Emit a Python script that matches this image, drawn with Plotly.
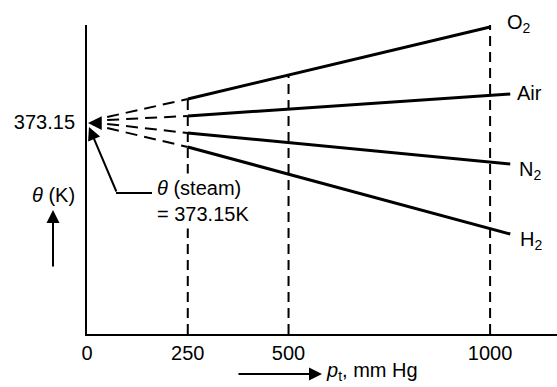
import plotly.graph_objects as go

# ---- data (schematic theta values in K) ----
theta_steam = 373.15
p_solid_o2 = [250, 1000]
p_solid_other = [250, 1050]
theta_o2 = [373.38, 374.10]
theta_air = [373.21, 373.43]
theta_n2 = [373.04, 372.73]
theta_h2 = [372.90, 372.03]

p_dash = [50, 250]
theta_o2_dash = [373.20, 373.38]
theta_air_dash = [373.17, 373.21]
theta_n2_dash = [373.13, 373.04]
theta_h2_dash = [373.09, 372.90]

p_marks = [250, 500, 1000]
theta_marks_top = [373.38, 373.63, 374.12]

x_ticks = [0, 250, 500, 1000]
y_range = [371.03, 374.12]
x_range = [0, 1166]

FONT = "Liberation Sans, Arial, sans-serif"
BLACK = "black"

fig = go.Figure()

# dashed extrapolations
for th in [theta_o2_dash, theta_air_dash, theta_n2_dash, theta_h2_dash]:
    fig.add_trace(go.Scatter(x=p_dash, y=th, mode="lines",
                             line=dict(color=BLACK, width=2, dash="12px,7px"),
                             showlegend=False, hoverinfo="skip"))

# dashed verticals
for p, top in zip(p_marks, theta_marks_top):
    fig.add_trace(go.Scatter(x=[p, p], y=[y_range[0], top], mode="lines",
                             line=dict(color=BLACK, width=2, dash="10px,6px"),
                             showlegend=False, hoverinfo="skip"))

# solid lines
fig.add_trace(go.Scatter(x=p_solid_o2, y=theta_o2, mode="lines",
                         line=dict(color=BLACK, width=3), showlegend=False))
for th in [theta_air, theta_n2, theta_h2]:
    fig.add_trace(go.Scatter(x=p_solid_other, y=th, mode="lines",
                             line=dict(color=BLACK, width=3), showlegend=False))

L, R, T, B = 87, 557, 25, 334
W, H = R - L, B - T


def PX(x):
    return (x - L) / W


def PY(y):
    return (B - y) / H


ann = []
fs = 20


def txt(x, y, s, xa="left", **kw):
    d = dict(x=PX(x), y=PY(y), xref="paper", yref="paper", text=s,
             showarrow=False, xanchor=xa, yanchor="middle",
             font=dict(family=FONT, size=fs, color=BLACK))
    d.update(kw)
    ann.append(d)


def arrow(x, y, ax, ay, width=2, size=1.2, head=2):
    ann.append(dict(x=PX(x), y=PY(y), xref="paper", yref="paper", text="",
                    showarrow=True, ax=ax, ay=ay, arrowhead=head,
                    arrowwidth=width, arrowsize=size, arrowcolor=BLACK,
                    standoff=0))


# series labels
txt(505, 23, "O<sub>2</sub>")
txt(515, 93, "Air")
txt(517, 170, "N<sub>2</sub>")
txt(518, 240, "H<sub>2</sub>")

# steam annotation (white background masks the dashed line)
txt(153, 201, "<i>θ</i> (steam)<br>= 373.15K", align="left",
    bgcolor="white", borderpad=3)
# leader arrow
arrow(89, 127, 28, 66, width=2, size=1.3)
# convergence arrowhead
arrow(88, 123, 13, 0, width=2.5, size=1.1)

# y-axis label and arrow
txt(53, 195, "<i>θ</i> (K)", xa="center")
arrow(53, 210, 0, 58, width=2, size=1.3)

# x-axis label and arrow
arrow(322, 374, -85, 0, width=2, size=1.3)
txt(324, 371, "<i>p</i><sub>t</sub>, mm Hg")

fig.update_layout(
    width=557, height=387,
    margin=dict(l=L, r=557 - R, t=T, b=387 - B),
    paper_bgcolor="white", plot_bgcolor="white",
    font=dict(family=FONT, size=fs, color=BLACK),
    annotations=ann,
    shapes=[dict(type="line", xref="paper", yref="paper",
                 x0=PX(116), x1=PX(152), y0=PY(193), y1=PY(193),
                 line=dict(color=BLACK, width=2))],
    xaxis=dict(range=x_range, showgrid=False, zeroline=False,
               showline=True, linecolor=BLACK, linewidth=2,
               tickvals=x_ticks, ticks="", ticklabelstandoff=0,
               tickfont=dict(family=FONT, size=fs, color=BLACK)),
    yaxis=dict(range=y_range, showgrid=False, zeroline=False,
               showline=True, linecolor=BLACK, linewidth=2,
               tickvals=[theta_steam], ticktext=["373.15"], ticks="",
               ticklabelstandoff=6,
               tickfont=dict(family=FONT, size=fs, color=BLACK)),
)

fig.write_html("out.html",
               config={"displayModeBar": False},
               post_script="document.body.style.margin='0px';"
                           "document.body.style.padding='0px';"
                           "document.body.style.overflow='hidden';")
